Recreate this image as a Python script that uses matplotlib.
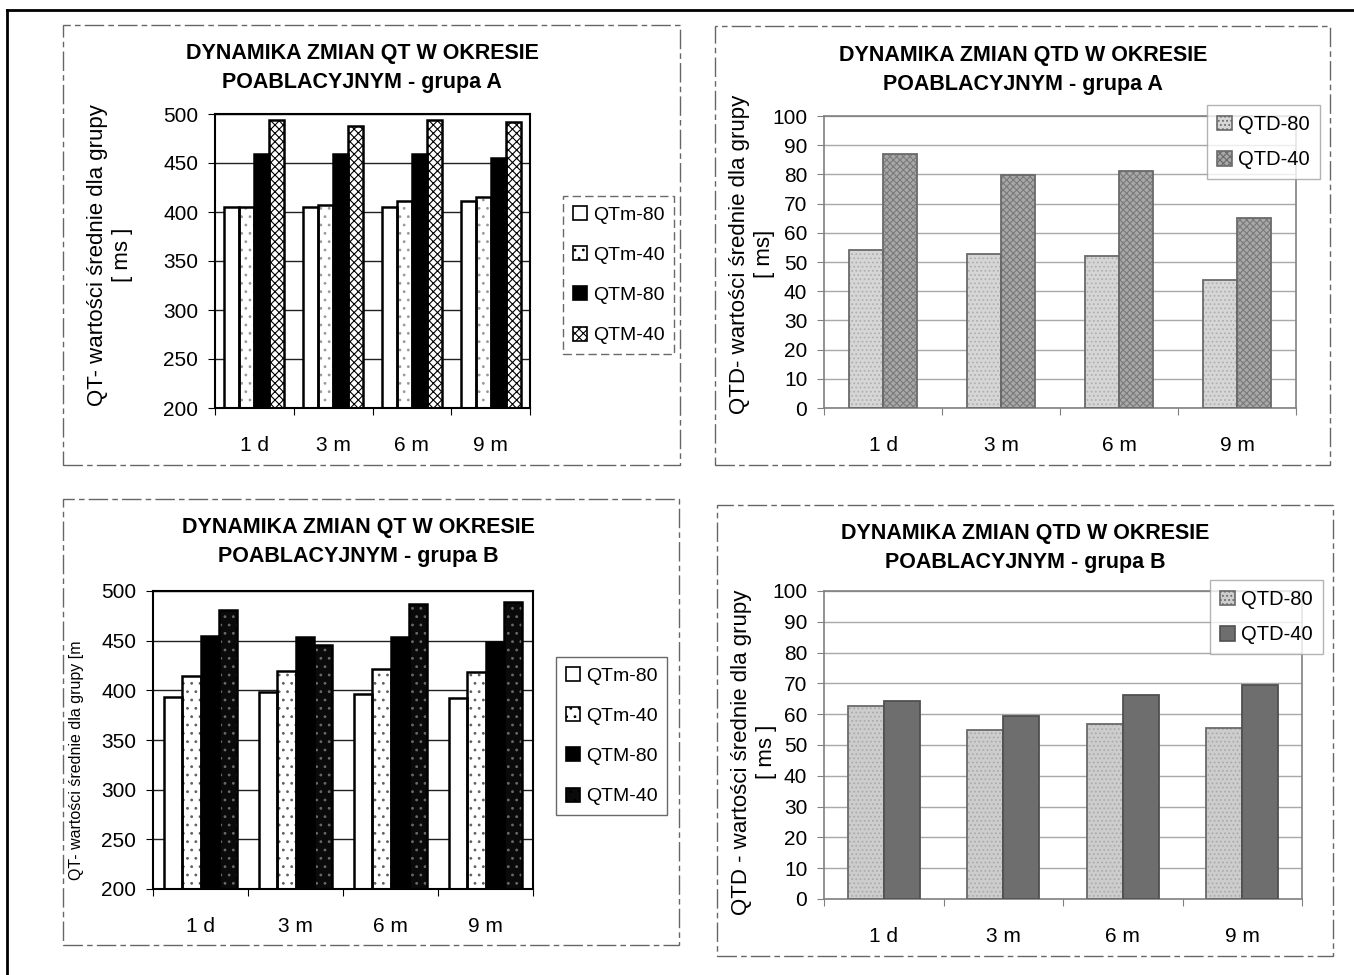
import matplotlib
matplotlib.use('Agg')
import matplotlib.pyplot as plt
import numpy as np
from matplotlib.patches import Rectangle
from matplotlib.lines import Line2D

plt.rcParams['font.family'] = ['Liberation Sans', 'DejaVu Sans']
plt.rcParams['hatch.linewidth'] = 0.8

W, H = 1354, 975

periods = ['1 d', '3 m', '6 m', '9 m']

# QT, grupa A
qtm80_a = [405, 405, 405, 411]
qtm40_a = [405, 407, 411, 415]
qtM80_a = [459, 459, 459, 455]
qtM40_a = [494, 488, 494, 492]

# QT, grupa B
qtm80_b = [393, 398, 396, 392]
qtm40_b = [414, 419, 421, 418]
qtM80_b = [455, 454, 454, 449]
qtM40_b = [481, 446, 487, 489]

# QTD, grupa A / B
qtd80_a = [54.0, 52.7, 52.0, 43.7]
qtd40_a = [86.9, 79.9, 81.2, 65.2]
qtd80_b = [62.7, 54.9, 56.8, 55.5]
qtd40_b = [64.3, 59.5, 66.2, 69.4]

qt_labels = ['QTm-80', 'QTm-40', 'QTM-80', 'QTM-40']
qtd_labels = ['QTD-80', 'QTD-40']


def px_axes(fig, l, t, r, b):
    return fig.add_axes([l / W, 1 - b / H, (r - l) / W, (b - t) / H])


def draw_bars(ax, series, width, styles):
    x = np.arange(len(periods))
    n = len(series)
    handles = []
    for i, (vals, st) in enumerate(zip(series, styles)):
        off = (i - (n - 1) / 2) * width
        ax.bar(x + off, vals, width, color=st['face'], edgecolor=st['hc'],
               hatch=st['hatch'], linewidth=0, zorder=2)
        ax.bar(x + off, vals, width, fill=False, edgecolor=st['edge'],
               linewidth=st['lw'], zorder=3)
        handles.append(Rectangle((0, 0), 1, 1, facecolor=st['face'], hatch=st['hatch'],
                                 edgecolor=st['edge'], linewidth=1.2))
    return handles


def style_axes(ax, ylim, step, grid_c, spine_c, spine_lw):
    ax.set_xlim(-0.5, len(periods) - 0.5)
    ax.set_ylim(*ylim)
    ax.set_yticks(np.arange(ylim[0], ylim[1] + 1, step))
    ax.set_xticks(np.arange(len(periods) + 1) - 0.5)
    ax.set_xticklabels([])
    ax.set_xticks(np.arange(len(periods)), minor=True)
    ax.set_xticklabels(periods, minor=True, fontsize=15)
    ax.tick_params(axis='x', which='minor', length=0, pad=20)
    ax.tick_params(axis='x', which='major', length=5, color=spine_c)
    ax.tick_params(axis='y', labelsize=15, length=5, pad=7, color=spine_c)
    ax.yaxis.grid(True, color=grid_c, linewidth=1, zorder=0)
    ax.set_axisbelow(True)
    for s in ax.spines.values():
        s.set_color(spine_c)
        s.set_linewidth(spine_lw)


def panel_border(fig, l, t, r, b):
    fig.patches.append(Rectangle((l / W, 1 - b / H), (r - l) / W, (b - t) / H,
                                 transform=fig.transFigure, fill=False,
                                 edgecolor='#666666', linewidth=1.0,
                                 linestyle=(0, (14, 3, 4, 3))))


def add_legend(fig, handles, labels, x, y, fs, spacing, edge):
    leg = fig.legend(handles, labels, loc='upper left', bbox_to_anchor=(x / W, 1 - y / H),
                     borderaxespad=0, fontsize=fs, handlelength=0.75, handleheight=0.75,
                     handletextpad=0.3, labelspacing=spacing, borderpad=0.5,
                     fancybox=False, edgecolor=edge)
    leg.get_frame().set_linewidth(1.0)
    return leg


fig = plt.figure(figsize=(W / 100, H / 100), dpi=100)

# outer frame of the scanned page
fig.add_artist(Line2D([7 / W, 1], [1 - 10 / H, 1 - 10 / H], color='black', lw=2,
                      transform=fig.transFigure))
fig.add_artist(Line2D([7 / W, 7 / W], [0, 1 - 10 / H], color='black', lw=2,
                      transform=fig.transFigure))

panel_border(fig, 63, 25, 680, 465)
panel_border(fig, 715, 26, 1330, 465)
panel_border(fig, 63, 499, 679, 945)
panel_border(fig, 717, 505, 1333, 956)

title_kw = dict(ha='center', va='center', fontsize=15.5, fontweight='bold',
                linespacing=1.5)

# ---- QT grupa A ----
ax1 = px_axes(fig, 215, 114, 530, 408)
st_a = [
    dict(face='white', hc='black', hatch=None, edge='black', lw=1.8),
    dict(face='white', hc='#9a9a9a', hatch='..', edge='black', lw=1.8),
    dict(face='black', hc='black', hatch=None, edge='black', lw=1.8),
    dict(face='white', hc='black', hatch='xxxx', edge='black', lw=1.8),
]
h1 = draw_bars(ax1, [qtm80_a, qtm40_a, qtM80_a, qtM40_a], 0.19, st_a)
style_axes(ax1, (200, 500), 50, '#222222', 'black', 1.5)
fig.text(362 / W, 1 - 68 / H, 'DYNAMIKA ZMIAN QT W OKRESIE\nPOABLACYJNYM - grupa A', **title_kw)
fig.text(110 / W, 1 - 255 / H, 'QT- wartości średnie dla grupy\n[ ms ]', rotation=90,
         ha='center', va='center', multialignment='center', fontsize=16, linespacing=1.25)
leg1 = add_legend(fig, h1, qt_labels, 563, 196, 14, 1.15, '#444444')
leg1.get_frame().set_linestyle((0, (6, 3)))

# ---- QT grupa B ----
ax2 = px_axes(fig, 153, 591, 533, 889)
st_b = [
    dict(face='white', hc='black', hatch=None, edge='black', lw=1.8),
    dict(face='white', hc='#606060', hatch='..', edge='black', lw=1.8),
    dict(face='black', hc='black', hatch=None, edge='black', lw=1.8),
    dict(face='#0a0a0a', hc='#6a6a6a', hatch='..', edge='black', lw=1.8),
]
h2 = draw_bars(ax2, [qtm80_b, qtm40_b, qtM80_b, qtM40_b], 0.19, st_b)
style_axes(ax2, (200, 500), 50, '#222222', 'black', 1.5)
fig.text(358 / W, 1 - 542 / H, 'DYNAMIKA ZMIAN QT W OKRESIE\nPOABLACYJNYM - grupa B', **title_kw)
fig.text(76 / W, 1 - 760 / H, 'QT- wartości średnie dla grupy [m', rotation=90,
         ha='center', va='center', fontsize=11.5)
add_legend(fig, h2, qt_labels, 556, 657, 14, 1.15, '#444444')

# ---- QTD grupa A ----
ax3 = px_axes(fig, 824, 116, 1296, 408)
st_c = [
    dict(face='#d6d6d6', hc='#b0b0b0', hatch='....', edge='#6a6a6a', lw=1.3),
    dict(face='#a8a8a8', hc='#7a7a7a', hatch='xxxxx', edge='#6a6a6a', lw=1.3),
]
h3 = draw_bars(ax3, [qtd80_a, qtd40_a], 0.29, st_c)
style_axes(ax3, (0, 100), 10, '#a8a8a8', '#808080', 1.2)
fig.text(1023 / W, 1 - 70 / H, 'DYNAMIKA ZMIAN QTD W OKRESIE\nPOABLACYJNYM - grupa A', **title_kw)
fig.text(752 / W, 1 - 254 / H, 'QTD- wartości średnie dla grupy\n[ ms]', rotation=90,
         ha='center', va='center', multialignment='center', fontsize=16, linespacing=1.25)
add_legend(fig, h3, qtd_labels, 1207, 105, 14.5, 0.8, '#a0a0a0')

# ---- QTD grupa B ----
ax4 = px_axes(fig, 824, 591, 1302, 899)
st_d = [
    dict(face='#cdcdcd', hc='#ababab', hatch='....', edge='#6a6a6a', lw=1.3),
    dict(face='#6e6e6e', hc='#6e6e6e', hatch=None, edge='#505050', lw=1.3),
]
h4 = draw_bars(ax4, [qtd80_b, qtd40_b], 0.30, st_d)
style_axes(ax4, (0, 100), 10, '#a8a8a8', '#808080', 1.2)
fig.text(1025 / W, 1 - 548 / H, 'DYNAMIKA ZMIAN QTD W OKRESIE\nPOABLACYJNYM - grupa B', **title_kw)
fig.text(754 / W, 1 - 752 / H, 'QTD - wartości średnie dla grupy\n[ ms ]', rotation=90,
         ha='center', va='center', multialignment='center', fontsize=16, linespacing=1.25)
add_legend(fig, h4, qtd_labels, 1210, 580, 14.5, 0.8, '#a0a0a0')

fig.savefig('out.png', dpi=100)
